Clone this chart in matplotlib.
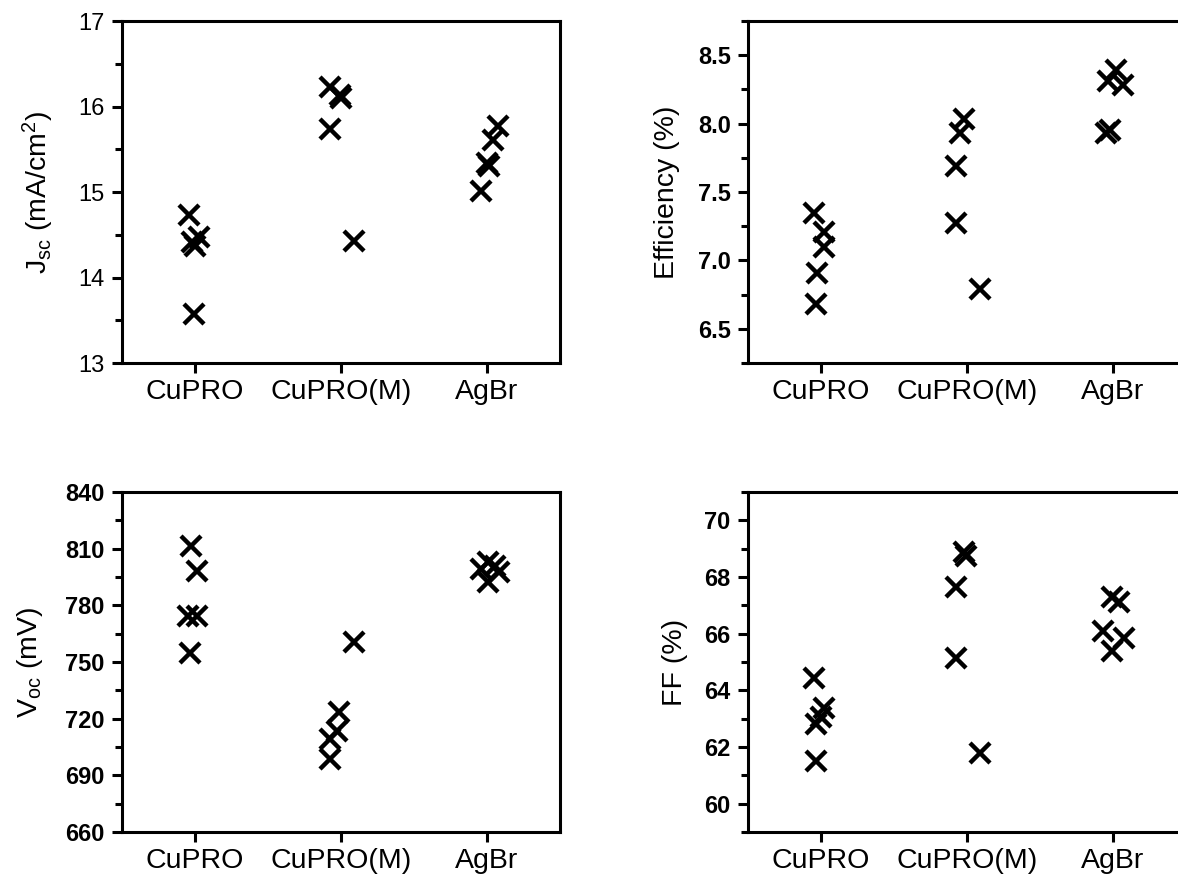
import numpy as np
import matplotlib
matplotlib.use("Agg")
from matplotlib import pyplot as plt
from matplotlib.ticker import MultipleLocator

plt.rcParams['font.family'] = ['Liberation Sans', 'DejaVu Sans']
plt.rcParams['mathtext.default'] = 'regular'

categories = ["CuPRO", "CuPRO(M)", "AgBr"]

# values, 5 devices per group
jsc_vals = [[14.73, 14.47, 14.42, 14.37, 13.57],
            [16.23, 16.14, 16.10, 15.74, 14.43],
            [15.01, 15.34, 15.30, 15.61, 15.77]]
jsc_dx = [[-0.044, 0.03, -0.02, 0.0, -0.01],
          [-0.074, -0.01, 0.0, -0.074, 0.086],
          [-0.042, 0.0, 0.015, 0.044, 0.076]]

eff_vals = [[7.35, 7.21, 7.10, 6.91, 6.68],
            [8.03, 7.93, 7.69, 7.27, 6.79],
            [8.39, 8.31, 8.28, 7.95, 7.93]]
eff_dx = [[-0.051, 0.018, 0.018, -0.025, -0.033],
          [-0.02, -0.046, -0.076, -0.076, 0.089],
          [0.018, -0.033, 0.068, -0.02, -0.045]]

voc_vals = [[811.6, 798.4, 774.5, 774.5, 754.6],
            [760.8, 723.6, 713.5, 709.0, 698.6],
            [799.3, 802.8, 801.0, 797.6, 792.3]]
voc_dx = [[-0.027, 0.017, -0.049, 0.017, -0.032],
          [0.086, -0.012, -0.025, -0.074, -0.074],
          [-0.042, 0.007, 0.057, 0.081, 0.007]]

ff_vals = [[64.42, 63.38, 63.05, 62.80, 61.52],
           [68.87, 68.75, 67.65, 65.15, 61.79],
           [67.30, 67.12, 66.08, 65.84, 65.38]]
ff_dx = [[-0.051, 0.018, 0.0, -0.035, -0.033],
         [-0.02, -0.008, -0.076, -0.076, 0.089],
         [-0.01, 0.043, -0.066, 0.076, -0.01]]

W, H = 1178, 877
fig = plt.figure(figsize=(W / 100, H / 100), dpi=100)


def make_axes(left, top, right, bottom):
    return fig.add_axes([left / W, 1 - bottom / H, (right - left) / W, (bottom - top) / H])


def draw_panel(ax, vals, dx, ylim, major, minor, ylabel, bold, lab_x):
    for i in range(3):
        xs = np.array(dx[i]) + i + 1
        ax.plot(xs, vals[i], linestyle='none', marker='x', color='black',
                markersize=14, markeredgewidth=3.2)
    ax.set_xlim(0.5, 3.5)
    ax.set_ylim(*ylim)
    ax.set_xticks([1, 2, 3])
    ax.set_xticklabels(categories, fontsize=20.5)
    ax.yaxis.set_major_locator(MultipleLocator(major))
    ax.yaxis.set_minor_locator(MultipleLocator(minor))
    ax.tick_params(axis='both', which='major', direction='out', length=7.5, width=2.2)
    ax.tick_params(axis='y', which='minor', direction='out', length=5, width=2.2)
    ax.tick_params(axis='x', which='major', pad=4)
    ax.tick_params(axis='y', which='major', pad=5, labelsize=17)
    if bold:
        for t in ax.get_yticklabels():
            t.set_fontweight('bold')
    for s in ax.spines.values():
        s.set_linewidth(2.2)
    ax.set_ylabel(ylabel, fontsize=20.5)
    ax.yaxis.set_label_coords(lab_x, 0.5)


ax1 = make_axes(122, 21, 560, 363)
draw_panel(ax1, jsc_vals, jsc_dx, (13, 17), 1, 0.5,
           r"J$_{sc}$ (mA/cm$^{2}$)", False, -0.15)
ax1.set_yticks([13, 14, 15, 16, 17])

ax2 = make_axes(748, 21, 1186, 363)
draw_panel(ax2, eff_vals, eff_dx, (6.25, 8.75), 0.5, 0.25,
           "Efficiency (%)", True, -0.155)
ax2.yaxis.set_major_formatter(matplotlib.ticker.FormatStrFormatter('%.1f'))
for t in ax2.get_yticklabels():
    t.set_fontweight('bold')

ax3 = make_axes(122, 492, 560, 832)
draw_panel(ax3, voc_vals, voc_dx, (660, 840), 30, 15,
           r"V$_{oc}$ (mV)", True, -0.175)

ax4 = make_axes(748, 492, 1186, 832)
draw_panel(ax4, ff_vals, ff_dx, (59, 71), 2, 1,
           "FF (%)", True, -0.137)

fig.savefig("out.png", dpi=100)
